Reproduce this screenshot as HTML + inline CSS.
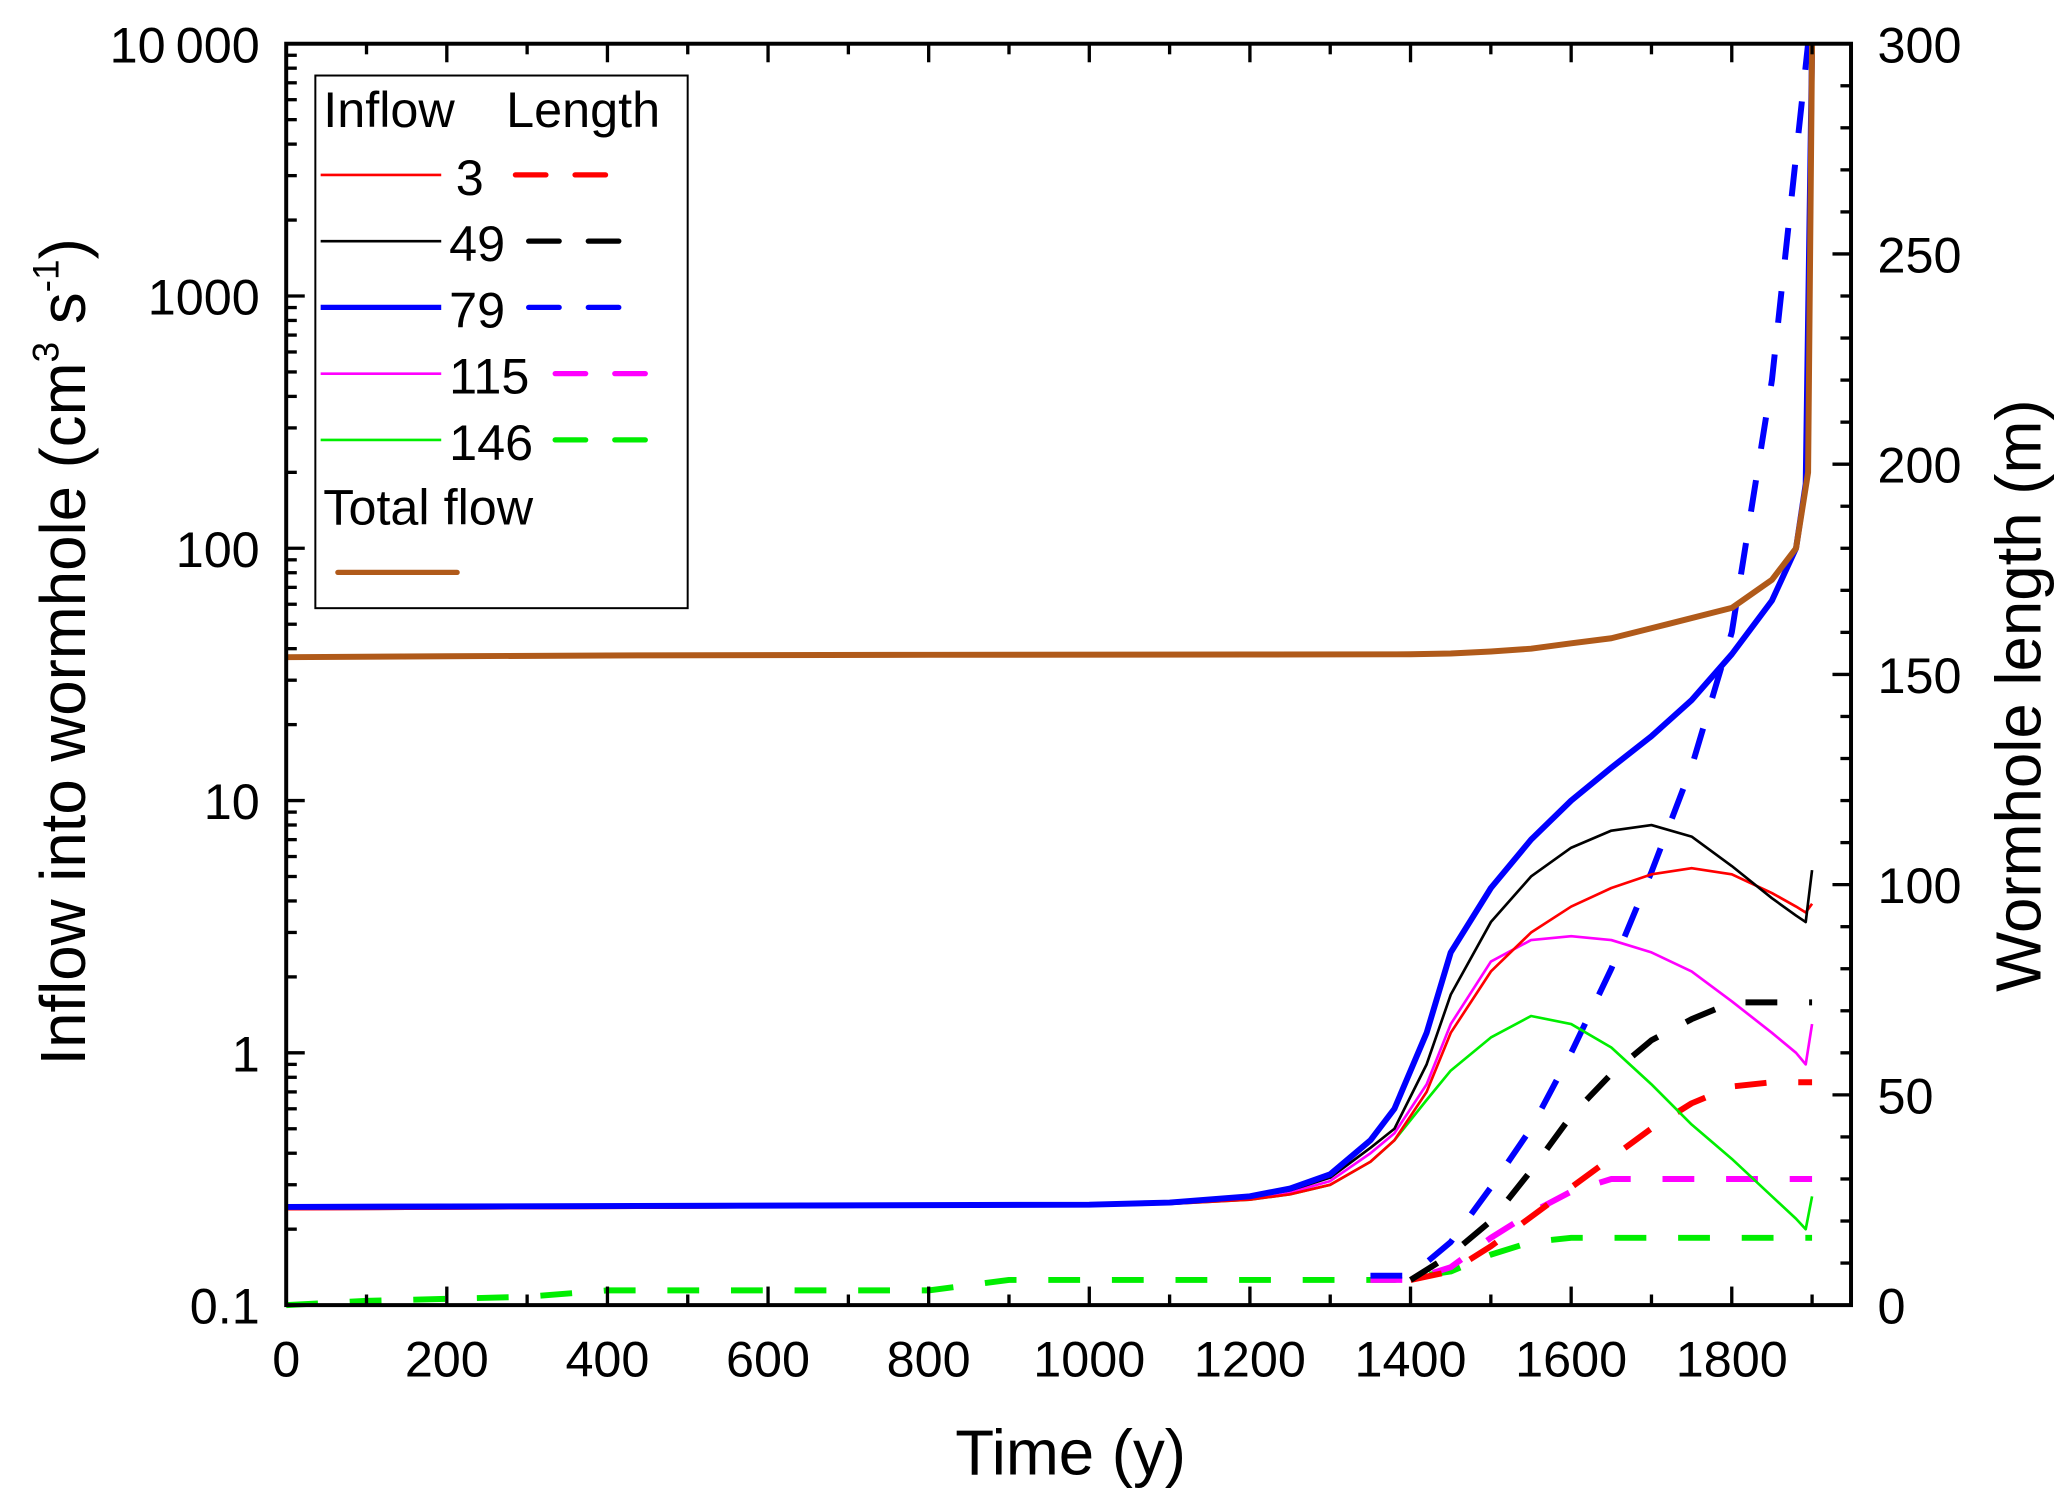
<!DOCTYPE html>
<html><head><meta charset="utf-8"><style>
html,body{margin:0;padding:0;background:#fff;width:2067px;height:1502px;overflow:hidden}
svg{display:block}
text{font-family:"Liberation Sans",Arial,sans-serif;fill:#000}
</style></head><body>
<svg id="chart" width="2067" height="1502" viewBox="0 0 1560 1133.6" preserveAspectRatio="none" xmlns="http://www.w3.org/2000/svg"></svg>
<script>
// ---- data ----
const xTicks = [0,200,400,600,800,1000,1200,1400,1600,1800];
const yTicks = [0.1,1,10,100,1000,10000];
const yTickLabels = ["0.1","1","10","100","1000","10\u2009000"];
const rTicks = [0,50,100,150,200,250,300];

const totalT = [0,200,400,800,1200,1400,1450,1500,1550,1600,1650,1720,1800,1850,1880,1895,1900];
const totalV = [37,37.3,37.6,37.8,37.9,38,38.3,39,40,42,44,50,58,75,100,200,10000];

const inT = [0,1000,1100,1200,1250,1300,1350,1380,1420,1450,1500,1550,1600,1650,1700,1750,1800,1850,1880,1892,1900];
const blueV = [0.245,0.25,0.255,0.27,0.29,0.33,0.45,0.6,1.2,2.5,4.5,7,10,13.5,18,25,38,62,100,180,10000];
const blackV = [0.245,0.25,0.255,0.268,0.285,0.32,0.42,0.5,0.9,1.7,3.3,5,6.5,7.6,8,7.2,5.5,4.1,3.5,3.3,5.3];
const redV = [0.24,0.248,0.252,0.262,0.275,0.3,0.37,0.45,0.7,1.2,2.1,3,3.8,4.5,5.1,5.4,5.1,4.3,3.8,3.6,3.9];
const magV = [0.24,0.248,0.252,0.264,0.28,0.31,0.4,0.48,0.75,1.3,2.3,2.8,2.9,2.8,2.5,2.1,1.6,1.2,1.0,0.9,1.3];
const greenV = [0.24,0.248,0.252,0.262,0.275,0.3,0.37,0.45,0.65,0.85,1.15,1.4,1.3,1.05,0.75,0.52,0.38,0.27,0.22,0.2,0.27];

const lenGreenT = [0,100,300,400,800,900,1380,1450,1500,1550,1600,1900];
const lenGreenV = [0,1,2,3.5,3.5,6,6,8,12,15,16,16];
const lenMagT = [1350,1400,1450,1500,1550,1600,1650,1900];
const lenMagV = [6,6,9,16,22,27,30,30];
const lenRedT = [1400,1450,1500,1550,1600,1650,1700,1750,1800,1850,1900];
const lenRedV = [6,8,14,21,28,35,42,48,52,53,53];
const lenBlackT = [1400,1450,1500,1550,1600,1650,1700,1750,1800,1900];
const lenBlackV = [6,12,20,32,45,55,63,68,72,72];
const lenBlueT = [1350,1400,1450,1500,1550,1600,1650,1700,1750,1800,1850,1895];
const lenBlueV = [7,7,15,28,42,60,80,103,128,160,220,300];

// ---- axes ----
const L=216,R=1397,T=33,B=985;
const xs = x => L + x*(1307-L)/1800;
const ys = v => B - (Math.log10(v)+1)*((B-T)/5);
const yr = m => B - m*(B-T)/300;
const svg = document.getElementById('chart');
const NS='http://www.w3.org/2000/svg';
function mk(tag, attrs, parent){const e=document.createElementNS(NS,tag);for(const k in attrs)e.setAttribute(k,attrs[k]);(parent||svg).appendChild(e);return e;}

function line(ts, vs, yfn, color, w, dash, name){
  const d = ts.map((t,i)=>(i?'L':'M')+xs(t).toFixed(1)+' '+yfn(vs[i]).toFixed(1)).join(' ');
  const p = mk('path',{d:d,fill:'none',stroke:color,'stroke-width':w,'stroke-linejoin':'round'});
  if(dash) p.setAttribute('stroke-dasharray',dash);
  
  
}
line(lenGreenT,lenGreenV,yr,'#00ee00',4.5,'24 24','length-146');
line(lenMagT,lenMagV,yr,'#ff00ff',4.5,'24 24','length-115');
line(lenRedT,lenRedV,yr,'#ff0000',4.5,'24 24','length-3');
line(lenBlackT,lenBlackV,yr,'#000',4.5,'24 24','length-49');
line(lenBlueT,lenBlueV,yr,'#0000ff',4.5,'24 24','length-79');
line(inT,greenV,ys,'#00ee00',2,null,'inflow-146');
line(inT,magV,ys,'#ff00ff',2,null,'inflow-115');
line(inT,redV,ys,'#ff0000',2,null,'inflow-3');
line(inT,blackV,ys,'#000',2,null,'inflow-49');
line(inT,blueV,ys,'#0000ff',4.5,null,'inflow-79');
line(totalT,totalV,ys,'#b05a1a',4.5,null,'total-flow');

const fr = mk('rect',{x:L,y:T,width:R-L,height:B-T,fill:'none',stroke:'#000','stroke-width':3});



for(let x=0;x<=1900;x+=100){
  const maj = x%200===0, len = maj?14:8;
  mk('line',{x1:xs(x),x2:xs(x),y1:B,y2:B-len,stroke:'#000','stroke-width':2.5});
  mk('line',{x1:xs(x),x2:xs(x),y1:T,y2:T+len,stroke:'#000','stroke-width':2.5});
}
xTicks.forEach(x=>{
  const t = mk('text',{x:xs(x),y:B+54,'font-size':38,'text-anchor':'middle'}); t.textContent=x;
  
  
});
for(let d=-1; d<4; d++){
  for(let k=1;k<10;k++){
    const v = k*Math.pow(10,d), len = k===1?14:8;
    mk('line',{x1:L,x2:L+len,y1:ys(v),y2:ys(v),stroke:'#000','stroke-width':2.5});
  }
}
yTicks.forEach((v,i)=>{
  const t = mk('text',{x:L-20,y:ys(v)+14,'font-size':38,'text-anchor':'end'}); t.textContent=yTickLabels[i];
  
  
});
for(let m=0;m<=300;m+=10){
  const len = m%50===0?14:8;
  mk('line',{x1:R,x2:R-len,y1:yr(m),y2:yr(m),stroke:'#000','stroke-width':2.5});
}
rTicks.forEach(m=>{
  const t = mk('text',{x:R+20,y:yr(m)+14,'font-size':38}); t.textContent=m;
  
  
});

let t = mk('text',{x:808,y:1113,'font-size':48,'text-anchor':'middle'}); t.textContent='Time (y)';


t = mk('text',{x:0,y:0,'font-size':48,'text-anchor':'middle',transform:'translate(64 492) rotate(-90)'});
t.innerHTML='Inflow into wormhole (cm<tspan dy="-20" font-size="28">3</tspan><tspan dy="20"> s</tspan><tspan dy="-20" font-size="28">-1</tspan><tspan dy="20">)</tspan>';


t = mk('text',{x:0,y:0,'font-size':48,'text-anchor':'middle',transform:'translate(1540 525) rotate(-90)'}); t.textContent='Wormhole length (m)';



const lg = mk('g',{});


mk('rect',{x:238,y:57,width:281,height:402,fill:'#fff',stroke:'#000','stroke-width':1.5},lg);
let lt = mk('text',{x:244,y:96,'font-size':38},lg); lt.textContent='Inflow';
lt = mk('text',{x:382,y:96,'font-size':38},lg); lt.textContent='Length';
const legNames=['3','49','79','115','146'];
const legCols=['#ff0000','#000','#0000ff','#ff00ff','#00ee00'];
legNames.forEach((n,i)=>{
  const y = 132 + i*50;
  const g = mk('g',{},lg);
  
  
  mk('line',{x1:242,x2:333,y1:y,y2:y,stroke:legCols[i],'stroke-width':i===2?4:2},g);
  const tx = mk('text',{x:i===0?344:339,y:y+15,'font-size':38},g); tx.textContent=n;
  const dx = i<3?(i===0?389:399):419;
  mk('line',{x1:dx,x2:dx+23,y1:y,y2:y,stroke:legCols[i],'stroke-width':4,'stroke-linecap':'round'},g);
  mk('line',{x1:dx+45,x2:dx+68,y1:y,y2:y,stroke:legCols[i],'stroke-width':4,'stroke-linecap':'round'},g);
});
lt = mk('text',{x:244,y:396,'font-size':38},lg); lt.textContent='Total flow';
mk('line',{x1:255,x2:345,y1:432,y2:432,stroke:'#b05a1a','stroke-width':4,'stroke-linecap':'round'},lg);
</script>
</body></html>
